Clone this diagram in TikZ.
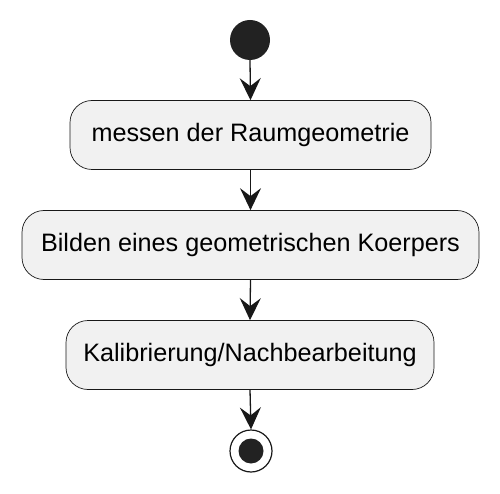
\documentclass[tikz,border=0pt]{standalone}
\usepackage{fontspec}
\setmainfont{Liberation Sans}
\usetikzlibrary{arrows.meta}
\definecolor{boxfill}{HTML}{F1F1F1}
\definecolor{ink}{HTML}{181818}
\definecolor{dot}{HTML}{222222}
\begin{document}
\begin{tikzpicture}[x=1pt,y=-1pt,
  act/.style={draw=ink, fill=boxfill, rounded corners=22pt, line width=0.7pt,
    font=\fontsize{25.2}{29}\selectfont, minimum height=69pt, inner sep=0pt, text=black},
  arr/.style={draw=ink, line width=1.3pt, -{Stealth[length=22pt,width=21pt,inset=8pt]}}]
\useasboundingbox (0,0) rectangle (500,494);
\node[circle, fill=dot, minimum size=40pt, inner sep=0pt] (s) at (250,40) {};
\node[act, minimum width=361pt] (b1) at (250.5,135) {messen der Raumgeometrie};
\node[act, minimum width=457pt] (b2) at (250.5,245) {Bilden eines geometrischen Koerpers};
\node[act, minimum width=368pt] (b3) at (250,355) {Kalibrierung/Nachbearbeitung};
\node[circle, draw=ink, line width=1.2pt, minimum size=42pt, inner sep=0pt] (e) at (251,451) {};
\node[circle, fill=dot, minimum size=25pt, inner sep=0pt] (ei) at (e.center) {};
\draw[arr] (s.south) -- (b1.north);
\draw[arr] (b1.south) -- (b2.north);
\draw[arr] (b2.south) -- (b3.north);
\draw[arr] (b3.south) -- (e.north);
\end{tikzpicture}
\end{document}
